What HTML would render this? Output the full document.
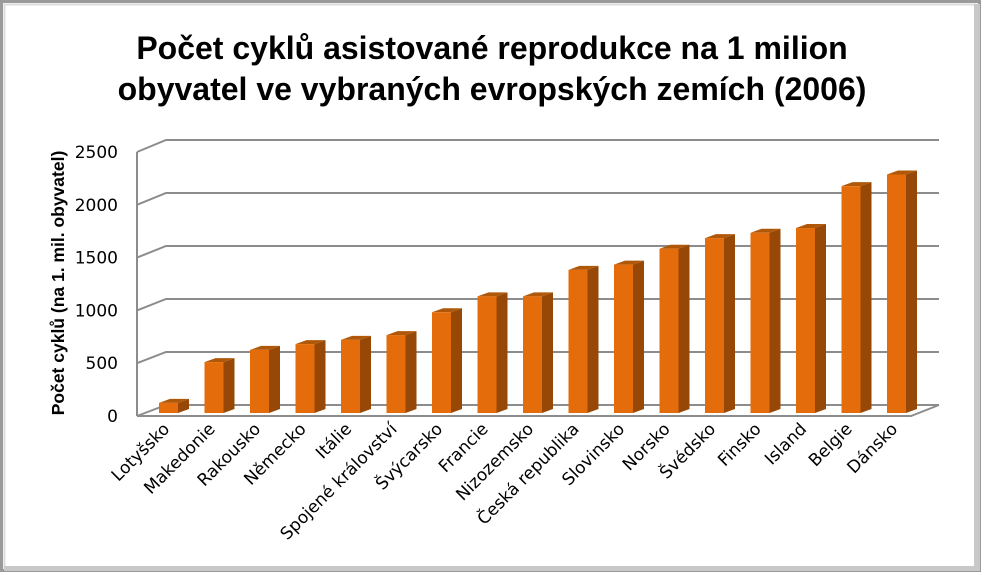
<!DOCTYPE html>
<html><head><meta charset="utf-8"><style>
html,body{margin:0;padding:0;background:#fff}
svg{display:block;font-family:"Liberation Sans",sans-serif}
</style></head><body>
<svg id="chart" width="985" height="575" viewBox="0 0 985 575">
<rect x="1.5" y="1.5" width="978" height="569" fill="#fff" stroke="#9a9a9a" stroke-width="3"/>
<rect x="4.5" y="4.5" width="972" height="563" fill="none" stroke="#dcdcdc" stroke-width="2"/>
<rect x="974" y="4" width="6" height="566" fill="#c8c8c8"/>
<rect x="4" y="566" width="976" height="5" fill="#c8c8c8"/>
<text x="492" y="59" text-anchor="middle" font-size="32" font-weight="bold" fill="#000">Počet cyklů asistované reprodukce na 1 milion</text>
<text x="492" y="100" text-anchor="middle" font-size="32" font-weight="bold" fill="#000">obyvatel ve vybraných evropských zemích (2006)</text>
<text transform="translate(64,283) rotate(-90)" text-anchor="middle" font-size="17.5" font-weight="bold">Počet cyklů (na 1. mil. obyvatel)</text>
<g id="grid"></g><g id="bars"></g><g id="labels"></g>
</svg>
<script>
const categories=["Lotyšsko","Makedonie","Rakousko","Německo","Itálie","Spojené království","Švýcarsko","Francie","Nizozemsko","Česká republika","Slovinsko","Norsko","Švédsko","Finsko","Island","Belgie","Dánsko"];
const values=[95,480,595,650,690,735,950,1100,1100,1350,1400,1550,1650,1700,1745,2140,2250];
const ticks=[0,500,1000,1500,2000,2500];
const NS="http://www.w3.org/2000/svg";
const yMax=2500;
const frontY=v=>416-v/yMax*264;
const backY=v=>405-v/yMax*265;
const barY=v=>413-v*0.106;
const xc=i=>168.5+i*45.5;
function mk(tag,attrs,parent){const e=document.createElementNS(NS,tag);for(const k in attrs)e.setAttribute(k,attrs[k]);parent.appendChild(e);return e;}
const grid=document.getElementById('grid');
ticks.forEach(t=>{
  const l=mk('polyline',{points:`137,${frontY(t)} 166,${backY(t)} 939,${backY(t)}`,fill:'none',stroke:'#8c8c8c','stroke-width':'2'},grid);
  
  
  const tx=mk('text',{x:118,y:frontY(t)+6,'text-anchor':'end','font-size':'17','font-family':'"DejaVu Sans",sans-serif',fill:'#000'},grid);
  tx.textContent=t;
  
  
});
const ax=mk('line',{x1:137,y1:frontY(yMax),x2:137,y2:416,stroke:'#8c8c8c','stroke-width':'2'},grid);


const fl=mk('polyline',{points:`137,416 911,416 939,405`,fill:'none',stroke:'#8c8c8c','stroke-width':'2'},grid);


const bars=document.getElementById('bars'),labels=document.getElementById('labels');
const w=19,dx=11,dy=4;
values.forEach((v,i)=>{
  const x0=xc(i)-w/2,x1=x0+w,yb=413,yt=barY(v);
  const g=mk('g',{},bars);
  
  
  mk('polygon',{points:`${x1},${yt} ${x1+dx},${yt-dy} ${x1+dx},${yb-dy} ${x1},${yb}`,fill:'#974806'},g);
  mk('polygon',{points:`${x0},${yt} ${x0+dx},${yt-dy} ${x1+dx},${yt-dy} ${x1},${yt}`,fill:'#b0580a'},g);
  mk('rect',{x:x0,y:yt,width:w,height:yb-yt,fill:'#e46c0a'},g);
  const t=mk('text',{transform:`translate(${xc(i)+2},430) rotate(-45)`,'text-anchor':'end','font-size':'17','font-family':'"DejaVu Sans",sans-serif',fill:'#000'},labels);
  t.textContent=categories[i];
  
  
});
</script>
</body></html>
